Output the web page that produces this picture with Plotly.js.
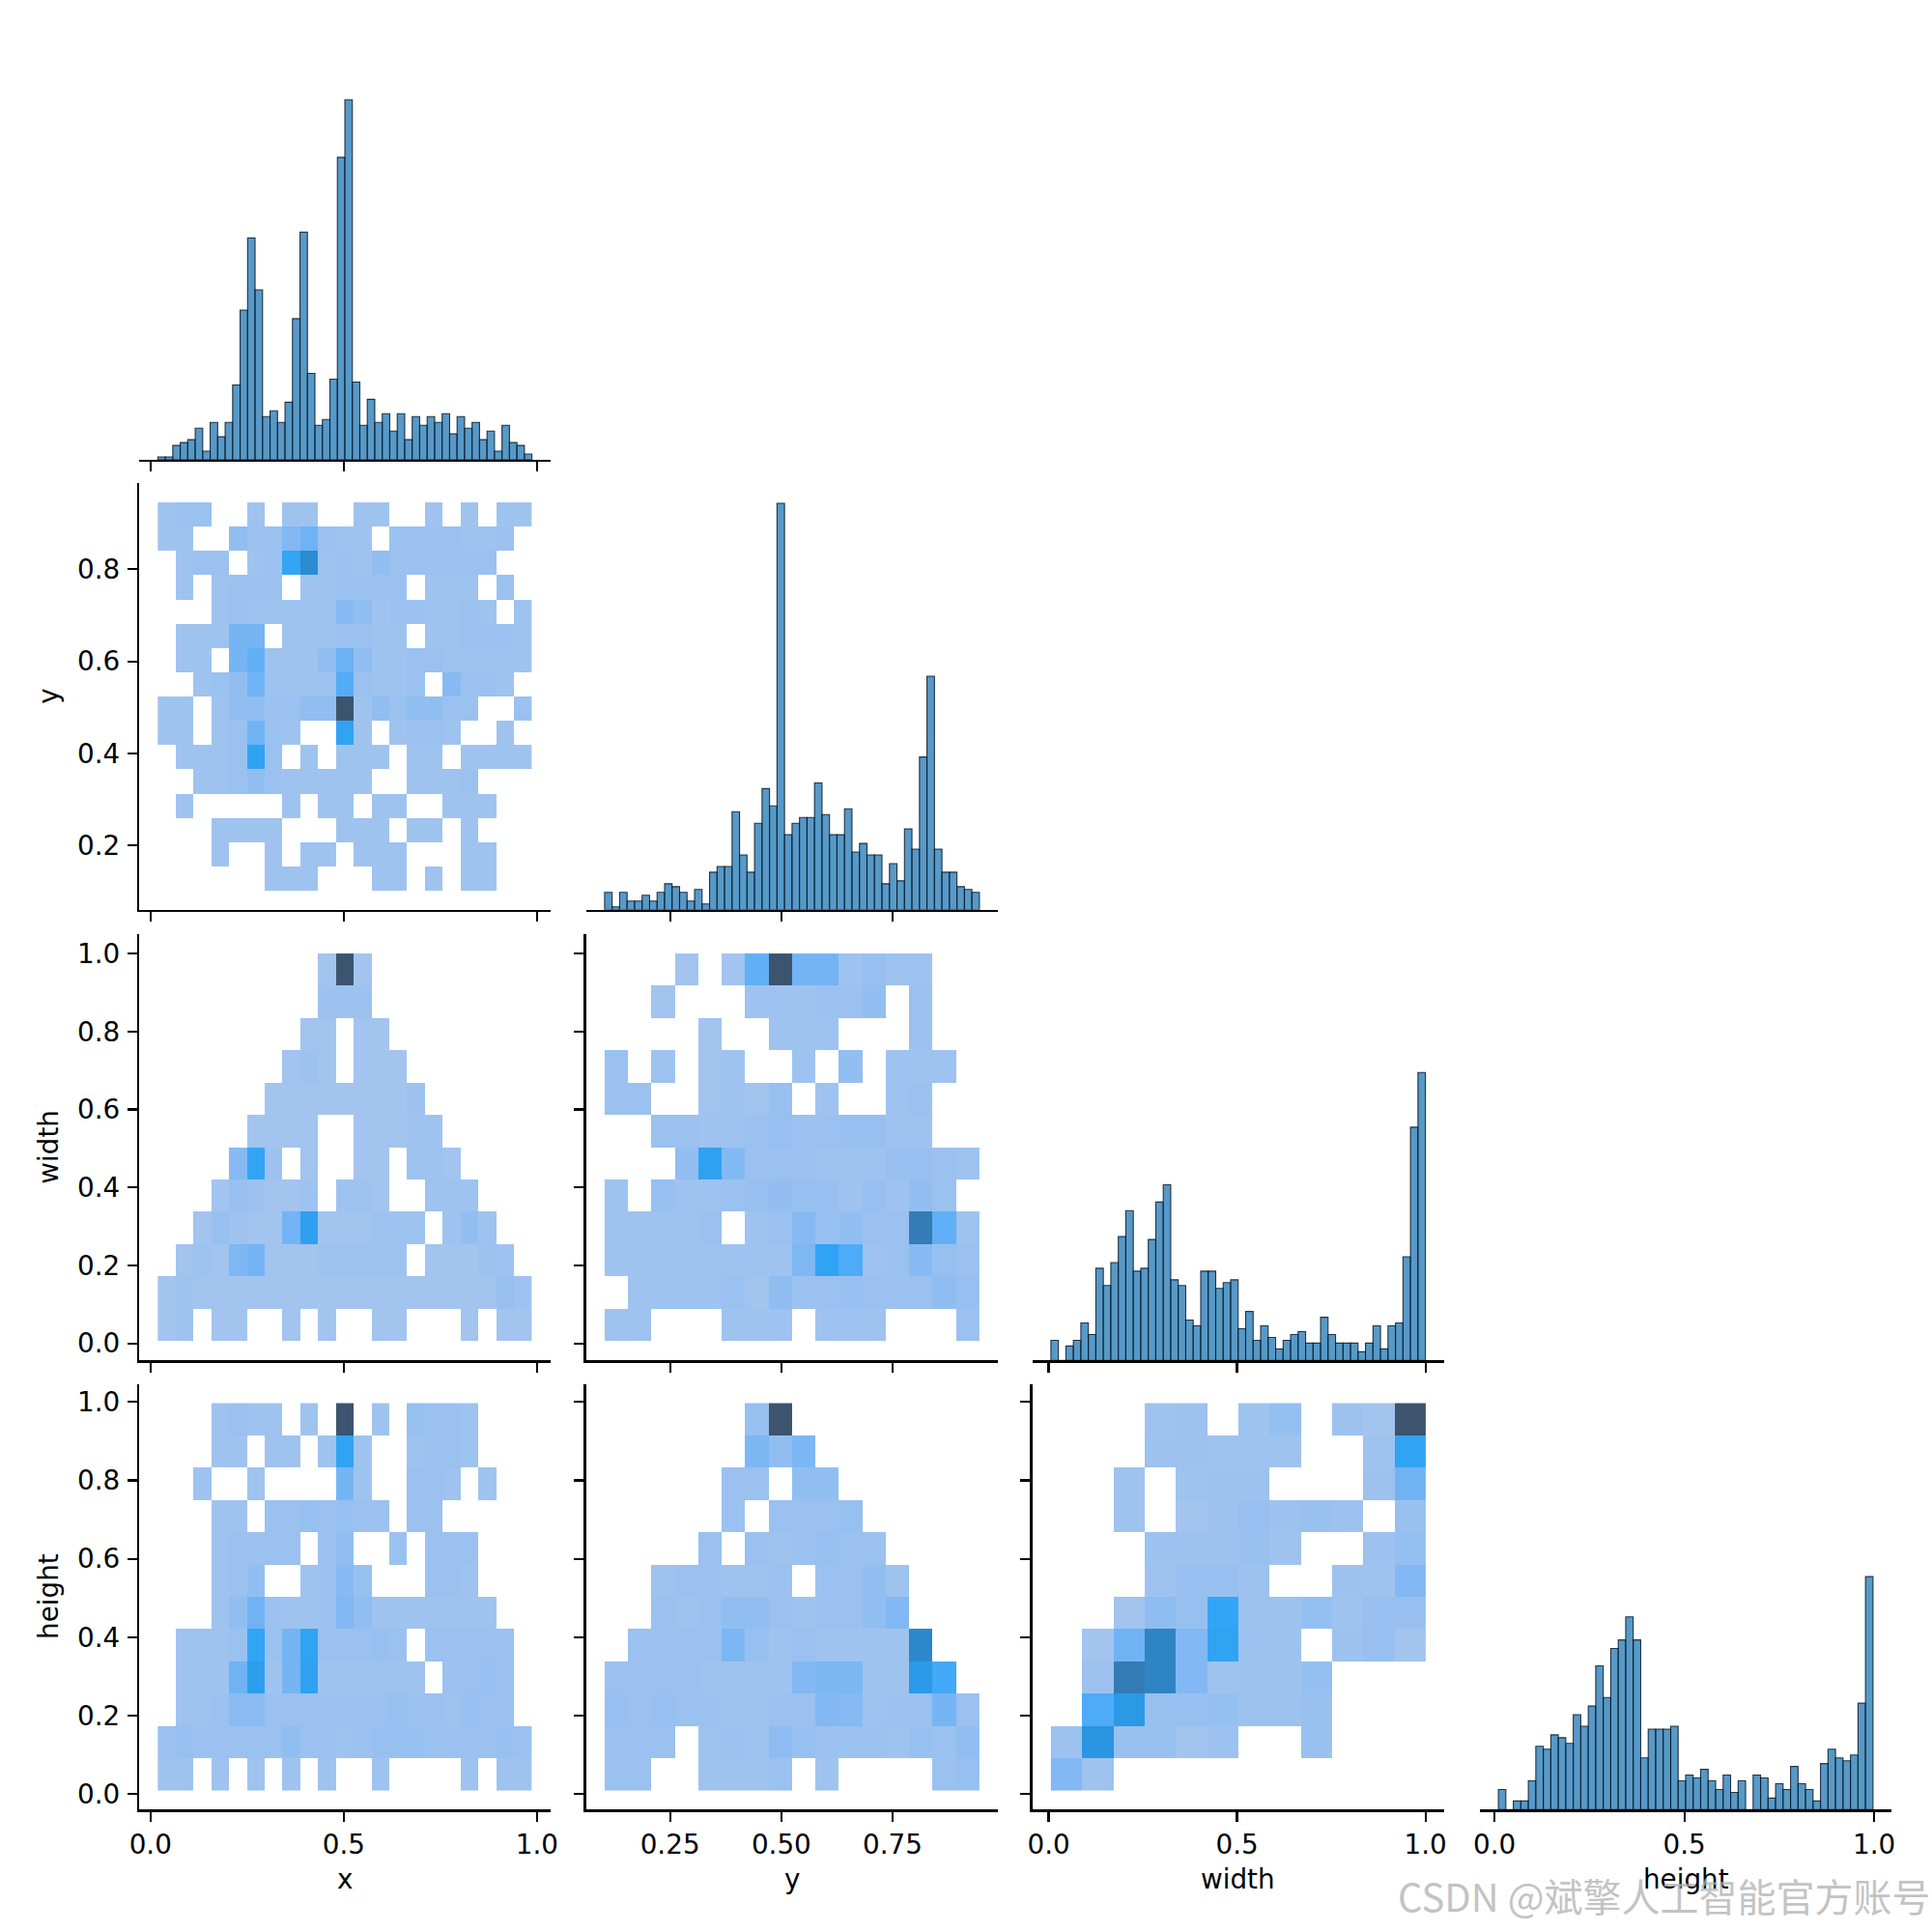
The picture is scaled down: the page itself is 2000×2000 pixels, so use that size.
<!DOCTYPE html>
<html><head><meta charset="utf-8">
<script src="https://cdn.plot.ly/plotly-3.0.1.min.js"></script>
<style>html,body{margin:0;padding:0;background:#fff}</style>
</head><body><div id="chart" style="width:2000px;height:2000px"></div>
<script>
// ---------------- DATA ----------------
const variables = ['x', 'y', 'width', 'height'];

// Diagonal histogram counts (50 bins each)
const xCounts = [1,1,5,6,7,11,3,13,8,13,26,52,77,59,15,17,13,20,49,79,30,12,14,28,105,125,27,12,21,13,16,10,16,7,15,12,15,13,16,9,15,11,13,7,10,3,12,6,5,2];
const yCounts = [6,1,6,3,3,5,3,6,9,8,6,3,7,2,13,15,15,34,19,13,30,42,36,141,26,30,32,32,44,33,26,26,35,20,23,19,19,9,16,10,28,21,53,81,21,13,13,8,7,6];
const widthCounts = [7,0,5,7,13,9,32,26,34,43,52,31,32,42,55,61,28,26,14,12,31,31,25,27,28,11,17,7,12,8,4,7,9,10,6,6,15,9,6,6,6,3,6,12,4,12,13,36,81,100];
const heightCounts = [7,0,3,3,10,22,21,26,25,23,33,29,36,50,39,56,59,67,59,18,28,28,28,29,10,12,11,14,10,7,12,6,10,0,12,11,4,9,7,15,9,7,3,16,21,18,17,19,37,81];

// Data ranges (min, max) of each variable = outer bin edges
const xBinRange = [0.019, 0.987];
const yBinRange = [0.103, 0.945];
const widthBinRange = [0.006, 1.0];
const heightBinRange = [0.010, 0.997];

// Tick values / labels
const xTickVals = [0, 0.5, 1.0];           const xTickText = ['0.0', '0.5', '1.0'];
const yTickValsX = [0.25, 0.5, 0.75];      const yTickTextX = ['0.25', '0.50', '0.75'];
const yTickValsY = [0.2, 0.4, 0.6, 0.8];   const yTickTextY = ['0.2', '0.4', '0.6', '0.8'];
const unitTickVals = [0, 0.2, 0.4, 0.6, 0.8, 1.0];
const unitTickText = ['0.0', '0.2', '0.4', '0.6', '0.8', '1.0'];
const widthTickValsX = [0, 0.5, 1.0];      const widthTickTextX = ['0.0', '0.5', '1.0'];
const heightTickValsX = [0, 0.5, 1.0];     const heightTickTextX = ['0.0', '0.5', '1.0'];

// 2D histogram counts, rows listed from TOP (high value) to BOTTOM
const countsXY = [ // 21 x-bins, 16 y-bins
  [3,4,4,0,0,3,0,3,3,0,0,3,3,0,0,3,0,3,0,3,3],
  [3,3,0,0,6,4,4,9,12,4,3,3,0,4,4,4,4,3,3,4,0],
  [0,3,4,4,0,3,4,20,32,3,4,3,6,4,4,4,4,4,4,0,0],
  [0,3,0,3,4,4,4,0,3,3,4,4,4,4,0,3,3,3,0,4,0],
  [0,0,0,3,4,3,3,3,3,3,8,6,3,4,4,3,3,4,3,0,3],
  [0,3,3,3,11,11,0,3,3,3,4,4,3,3,0,3,3,4,4,4,3],
  [0,3,3,0,11,14,3,3,3,6,13,6,3,3,4,4,3,3,3,3,3],
  [0,0,3,4,6,12,3,3,3,3,16,4,3,3,4,0,8,4,4,3,0],
  [3,3,0,3,6,6,4,4,6,6,60,3,6,4,6,6,4,4,0,0,4],
  [3,3,0,3,4,12,4,3,0,0,21,3,0,3,4,4,3,0,0,3,0],
  [0,3,3,3,4,21,4,0,3,0,3,3,3,0,3,3,0,3,3,3,3],
  [0,0,3,3,4,6,4,3,3,3,3,3,0,0,3,3,3,4,0,0,0],
  [0,3,0,0,0,0,0,3,0,3,3,0,3,3,0,0,3,3,3,0,0],
  [0,0,0,3,3,3,3,0,0,0,3,3,3,0,3,3,0,3,0,0,0],
  [0,0,0,3,0,0,3,0,3,3,0,3,3,3,0,0,0,3,3,0,0],
  [0,0,0,0,0,0,3,3,3,0,0,0,3,3,0,3,0,3,3,0,0]
];
const countsXWidth = [ // 21 x-bins, 12 width-bins
  [0,0,0,0,0,0,0,0,0,6,150,6,0,0,0,0,0,0,0,0,0],
  [0,0,0,0,0,0,0,0,0,9,9,9,0,0,0,0,0,0,0,0,0],
  [0,0,0,0,0,0,0,0,6,6,0,6,6,0,0,0,0,0,0,0,0],
  [0,0,0,0,0,0,0,6,9,6,0,6,6,6,0,0,0,0,0,0,0],
  [0,0,0,0,0,0,6,6,6,6,6,6,6,6,9,0,0,0,0,0,0],
  [0,0,0,0,0,6,6,6,6,0,0,6,6,6,8,8,0,0,0,0,0],
  [0,0,0,0,20,50,9,0,6,0,0,6,6,0,8,8,6,0,0,0,0],
  [0,0,0,6,12,9,6,6,8,0,8,8,6,0,0,8,8,8,0,0,0],
  [0,0,6,12,8,6,6,28,56,6,6,6,8,8,8,0,8,14,8,0,0],
  [0,6,8,6,24,28,6,6,6,8,8,8,8,8,0,6,6,6,9,8,0],
  [6,8,6,6,6,6,6,6,6,6,6,6,6,6,6,6,6,6,6,12,8],
  [6,8,0,6,6,0,0,6,0,6,0,0,6,6,0,0,0,6,0,6,6]
];
const countsYWidth = [ // 16 y-bins, 12 width-bins
  [0,0,0,6,0,6,36,150,28,28,8,12,8,8,0,0],
  [0,0,6,0,0,0,8,8,8,10,10,14,0,10,0,0],
  [0,0,0,0,6,0,0,8,8,8,0,0,0,10,0,0],
  [10,0,8,0,6,8,0,0,8,0,14,0,8,8,8,0],
  [10,10,0,0,6,8,6,12,0,8,0,0,8,10,0,0],
  [0,0,10,10,8,8,10,12,10,10,12,12,8,8,0,0],
  [0,0,0,14,55,22,10,10,10,8,8,8,12,12,10,8],
  [8,0,12,8,8,10,12,14,12,12,8,12,8,14,10,0],
  [8,8,8,8,10,0,8,10,20,12,14,10,10,100,36,8],
  [8,8,8,8,8,8,8,8,24,52,42,8,10,20,12,10],
  [0,8,8,8,8,10,6,16,10,10,12,10,10,10,16,12],
  [8,8,0,0,0,8,8,8,0,8,8,8,0,0,0,10]
];
const countsXHeight = [ // 21 x-bins, 12 height-bins
  [0,0,0,6,8,6,6,0,6,0,120,0,6,0,10,8,8,6,0,0,0],
  [0,0,0,6,6,0,6,6,0,6,42,6,0,0,6,8,8,6,0,0,0],
  [0,0,6,0,0,6,0,0,0,0,22,6,0,0,8,8,6,0,6,0,0],
  [0,0,0,6,6,0,8,8,10,8,10,8,8,0,8,8,0,0,0,0,0],
  [0,0,0,6,8,8,8,8,0,8,12,0,0,8,0,8,8,8,0,0,0],
  [0,0,0,6,8,12,0,0,6,8,16,10,0,0,0,8,8,6,0,0,0],
  [0,0,0,6,12,24,8,6,6,8,18,12,6,6,6,6,6,6,6,0,0],
  [0,6,6,6,8,40,8,22,42,8,8,8,10,8,0,8,8,8,8,8,0],
  [0,6,6,6,24,46,6,22,44,6,6,6,6,6,6,0,8,8,10,8,0],
  [0,6,6,8,15,15,8,8,8,8,8,8,8,10,8,8,6,10,8,8,0],
  [8,10,8,8,8,8,8,12,8,8,6,8,10,10,10,8,8,8,8,10,8],
  [6,6,0,6,0,6,0,6,0,6,0,0,6,0,0,0,0,6,0,6,6]
];
const countsYHeight = [ // 16 y-bins, 12 height-bins
  [0,0,0,0,0,0,10,120,0,0,0,0,0,0,0,0],
  [0,0,0,0,0,0,20,12,20,0,0,0,0,0,0,0],
  [0,0,0,0,0,8,8,0,12,12,0,0,0,0,0,0],
  [0,0,0,0,0,8,0,8,8,8,10,0,0,0,0,0],
  [0,0,0,0,8,0,8,6,8,10,8,8,0,0,0,0],
  [0,0,6,8,8,6,6,8,0,8,8,12,6,0,0,0],
  [0,0,8,6,8,12,12,8,6,8,8,12,18,0,0,0],
  [0,8,8,8,8,20,10,6,8,6,6,6,6,68,0,0],
  [8,8,8,8,6,6,6,6,18,20,20,6,6,50,36,0],
  [10,8,10,8,8,6,6,8,8,18,16,6,8,8,22,8],
  [8,8,8,0,6,8,6,14,10,8,8,8,6,10,8,12],
  [8,8,0,0,6,6,6,8,0,6,0,0,0,0,8,10]
];
const countsWidthHeight = [ // 12 width-bins, 12 height-bins
  [0,0,0,10,12,0,10,18,0,12,8,200],
  [0,0,0,12,12,10,10,10,0,0,10,70],
  [0,0,10,0,10,12,12,0,0,0,12,40],
  [0,0,10,0,8,12,16,12,14,12,0,14],
  [0,0,0,12,12,12,14,10,0,0,12,18],
  [0,0,0,10,16,16,12,0,0,12,10,30],
  [0,0,8,22,16,66,12,12,18,10,16,16],
  [0,8,40,120,30,70,12,12,0,12,16,8],
  [0,12,135,120,30,10,12,12,18,0,0,0],
  [0,56,85,14,16,18,12,12,14,0,0,0],
  [12,92,14,14,8,12,0,0,14,0,0,0],
  [30,10,0,0,0,0,0,0,0,0,0,0]
];

// ---------------- HUSL colormap (seaborn style) ----------------
const HM = [[3.2406,-1.5372,-0.4986],[-0.9689,1.8758,0.0415],[0.0557,-0.2040,1.0570]];
const HMI = [[0.4124,0.3576,0.1805],[0.2126,0.7152,0.0722],[0.0193,0.1192,0.9505]];
const REFU = 0.19784, REFV = 0.46834, LAB_E = 0.008856, LAB_K = 903.3;
function maxChroma(L, H) {
  const hr = H * Math.PI / 180, sinH = Math.sin(hr), cosH = Math.cos(hr);
  const sub1 = Math.pow(L + 16, 3) / 1560896.0;
  const sub2 = sub1 > 0.008856 ? sub1 : L / 903.3;
  let res = Infinity;
  for (const [m1, m2, m3] of HM) {
    const top = (0.99915 * m1 + 1.05122 * m2 + 1.14460 * m3) * sub2;
    const rb = 0.86330 * m3 - 0.17266 * m2;
    const lb = 0.12949 * m3 - 0.38848 * m1;
    const bottom = (rb * sinH + lb * cosH) * sub2;
    for (const t of [0, 1]) {
      const C = L * (top - 1.05122 * t) / (bottom + 0.17266 * sinH * t);
      if (C > 0 && C < res) res = C;
    }
  }
  return res;
}
const fwd = t => t > LAB_E ? Math.pow(t, 1/3) : 7.787 * t + 16/116;
const finv = t => Math.pow(t, 3) > LAB_E ? Math.pow(t, 3) : (116 * t - 16) / LAB_K;
const toLin = c => c > 0.04045 ? Math.pow((c + 0.055) / 1.055, 2.4) : c / 12.92;
const fromLin = c => c <= 0.0031308 ? 12.92 * c : 1.055 * Math.pow(c, 1/2.4) - 0.055;
function huslToRgb(H, S, L) {
  if (L > 99.9999999) return [1,1,1];
  if (L < 1e-8) return [0,0,0];
  const C = maxChroma(L, H) / 100 * S;
  const hr = H * Math.PI / 180;
  const U = C * Math.cos(hr), V = C * Math.sin(hr);
  const Y = finv((L + 16) / 116);
  const vu = U / (13 * L) + REFU, vv = V / (13 * L) + REFV;
  const X = 0 - (9 * Y * vu) / ((vu - 4) * vv - vu * vv);
  const Z = (9 * Y - 15 * vv * Y - vv * X) / (3 * vv);
  return HM.map(r => fromLin(r[0] * X + r[1] * Y + r[2] * Z));
}
function rgbToHusl(r, g, b) {
  const lin = [r, g, b].map(toLin);
  const [X, Y, Z] = HMI.map(m => m[0] * lin[0] + m[1] * lin[1] + m[2] * lin[2]);
  const d = X + 15 * Y + 3 * Z;
  const vu = 4 * X / d, vv = 9 * Y / d;
  const L = 116 * fwd(Y) - 16;
  const U = 13 * L * (vu - REFU), V = 13 * L * (vv - REFV);
  const C = Math.sqrt(U * U + V * V);
  let H = Math.atan2(V, U) * 180 / Math.PI; if (H < 0) H += 360;
  return [H, C / maxChroma(L, H) * 100, L];
}
const baseColor = [31 / 255, 119 / 255, 180 / 255];
const [h0, s0] = rgbToHusl(...baseColor);
const colorscale = [];
for (let k = 0; k < 256; k++) {
  const j = 255 - k;
  const L = 35 + 45 * j / 255;
  const xx = -1 + 2 * j / 293;
  const rgb = huslToRgb(h0, s0 * Math.cos(xx), L).map(v => Math.round(255 * Math.min(1, Math.max(0, v))));
  colorscale.push([k / 255, `rgb(${rgb.join(',')})`]);
}

// ---------------- BUILD ----------------
const binRanges = [xBinRange, yBinRange, widthBinRange, heightBinRange];
const diagCounts = [xCounts, yCounts, widthCounts, heightCounts];
const xTicks = [[xTickVals, xTickText], [yTickValsX, yTickTextX], [widthTickValsX, widthTickTextX], [heightTickValsX, heightTickTextX]];
const yTicks = [null, [yTickValsY, yTickTextY], [unitTickVals, unitTickText], [unitTickVals, unitTickText]];
const offDiag = {'1,0': countsXY, '2,0': countsXWidth, '2,1': countsYWidth, '3,0': countsXHeight, '3,1': countsYHeight, '3,2': countsWidthHeight};

const edges = (r, n) => Array.from({length: n + 1}, (_, i) => r[0] + (r[1] - r[0]) * i / n);
const centers = (r, n) => Array.from({length: n}, (_, i) => r[0] + (r[1] - r[0]) * (i + 0.5) / n);
const pad = r => { const d = r[1] - r[0]; return [r[0] - 0.05 * d, r[1] + 0.05 * d]; };

const W = 2000, H = 2000;
const colPx = [[144, 570], [606.5, 1033.3], [1068.5, 1495], [1531.7, 1958.3]];
const rowPx = [[34.5, 476], [500, 941.7], [967, 1408.3], [1432.5, 1873.3]];
const FONT = {family: 'DejaVu Sans, sans-serif', size: 27.8, color: '#000'};
const diagMax = Math.max(...diagCounts.map(c => Math.max(...c))) * 1.05;

const axisStyle = {
  showline: true, linecolor: '#000', linewidth: 2.2, mirror: false,
  ticks: 'outside', ticklen: 10, tickwidth: 2.2, tickcolor: '#000',
  showgrid: false, zeroline: false, tickfont: FONT, tickmode: 'array',
  fixedrange: true
};

const traces = [];
const layout = {
  width: W, height: H, margin: {l: 0, r: 0, t: 0, b: 0},
  paper_bgcolor: '#fff', plot_bgcolor: 'rgba(0,0,0,0)', showlegend: false,
  annotations: []
};

let n = 0;
for (let i = 0; i < 4; i++) {
  for (let j = 0; j <= i; j++) {
    n++;
    const xa = 'xaxis' + n, ya = 'yaxis' + n;
    const xr = binRanges[j];
    layout[xa] = Object.assign({}, axisStyle, {
      domain: [colPx[j][0] / W, colPx[j][1] / W], range: pad(xr), anchor: 'y' + n,
      tickvals: xTicks[j][0], ticktext: xTicks[j][1], showticklabels: i === 3,
      ticklabelstandoff: 0
    });
    if (i === j) {
      layout[ya] = {domain: [1 - rowPx[i][1] / H, 1 - rowPx[i][0] / H], range: [0, diagMax],
                    anchor: 'x' + n, visible: false, fixedrange: true};
      const c = diagCounts[i];
      traces.push({
        type: 'bar', x: centers(xr, c.length), y: c, width: (xr[1] - xr[0]) / c.length,
        xaxis: 'x' + n, yaxis: 'y' + n, hoverinfo: 'skip',
        marker: {color: 'rgba(31,119,180,0.75)', line: {color: 'rgba(10,25,40,0.85)', width: 1.1}}
      });
    } else {
      const yr = binRanges[i];
      layout[ya] = Object.assign({}, axisStyle, {
        domain: [1 - rowPx[i][1] / H, 1 - rowPx[i][0] / H], range: pad(yr), anchor: 'x' + n,
        tickvals: yTicks[i][0], ticktext: yTicks[i][1], showticklabels: j === 0,
        ticklabelstandoff: 2
      });
      const m = offDiag[i + ',' + j];
      const z = m.slice().reverse().map(row => row.map(v => v > 0 ? v : null));
      const zmax = Math.max(...m.map(r => Math.max(...r)));
      traces.push({
        type: 'heatmap', x: edges(xr, m[0].length), y: edges(yr, m.length), z: z,
        xaxis: 'x' + n, yaxis: 'y' + n, colorscale: colorscale, zmin: 0, zmax: zmax,
        showscale: false, hoverinfo: 'skip', zsmooth: false
      });
    }
  }
}

// axis titles
const labelFont = {family: 'DejaVu Sans, sans-serif', size: 27.8, color: '#000'};
variables.forEach((v, j) => {
  layout.annotations.push({text: v, xref: 'paper', yref: 'paper', x: (colPx[j][0] + colPx[j][1]) / 2 / W,
    y: 1 - 1945 / H, xanchor: 'center', yanchor: 'middle', showarrow: false, font: labelFont});
});
variables.slice(1).forEach((v, k) => {
  const i = k + 1;
  layout.annotations.push({text: v, xref: 'paper', yref: 'paper', x: 51 / W,
    y: 1 - (rowPx[i][0] + rowPx[i][1]) / 2 / H, xanchor: 'center', yanchor: 'middle',
    textangle: -90, showarrow: false, font: labelFont});
});
// watermark
layout.annotations.push({text: 'CSDN @斌擎人工智能官方账号', xref: 'paper', yref: 'paper',
  x: 1723 / W, y: 1 - 1962 / H, xanchor: 'center', yanchor: 'middle', showarrow: false,
  font: {family: 'Noto Sans CJK SC, sans-serif', size: 40, color: 'rgba(175,175,175,0.75)'}});

Plotly.newPlot('chart', traces, layout, {staticPlot: true, displayModeBar: false});
</script></body></html>
